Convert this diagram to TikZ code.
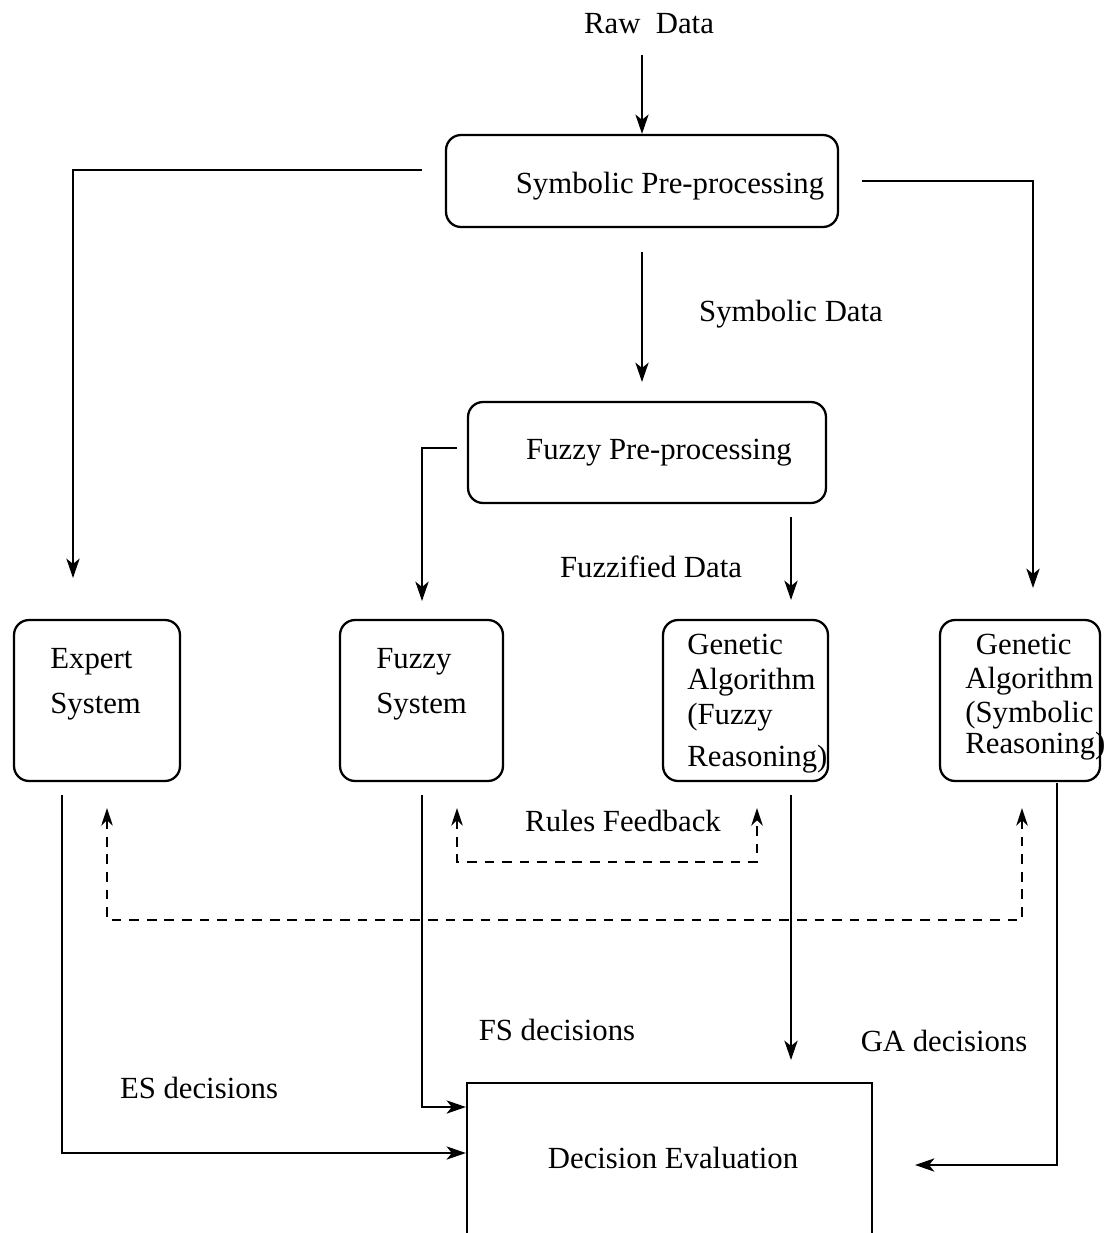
\documentclass[tikz,border=0pt]{standalone}
\usepackage{fontspec}
\setmainfont{Liberation Serif}
\usetikzlibrary{arrows.meta}
\begin{document}
\begin{tikzpicture}[x=0.02cm,y=-0.02cm,
  txt/.style={inner sep=0pt,font=\fontsize{17.5}{21}\selectfont},
  rbox/.style={draw,line width=1.3pt,rounded corners=0.3cm,inner sep=0pt},
  sbox/.style={draw,line width=1.3pt,inner sep=0pt},
  conn/.style={line width=1.3pt,-{Stealth[length=11pt,width=7.5pt,inset=3pt]}},
  fb/.style={line width=1.3pt,dash pattern=on 5.5pt off 4.5pt,{Stealth[length=10pt,width=6.5pt,inset=3pt]}-{Stealth[length=10pt,width=6.5pt,inset=3pt]}}]
\clip (0,0) rectangle (1103,1233);
\fill[white] (0,0) rectangle (1103,1233);

% boxes
\node[rbox,minimum width=7.84cm,minimum height=1.84cm] (sym) at (642,181) {};
\node[rbox,minimum width=7.16cm,minimum height=2.02cm] (fpre) at (647,452.5) {};
\node[rbox,minimum width=3.32cm,minimum height=3.22cm] (es) at (97,700.5) {};
\node[rbox,minimum width=3.26cm,minimum height=3.22cm] (fs) at (421.5,700.5) {};
\node[rbox,minimum width=3.3cm,minimum height=3.22cm] (gaf) at (745.5,700.5) {};
\node[rbox,minimum width=3.2cm,minimum height=3.22cm] (gas) at (1020,700.5) {};
\node[sbox,minimum width=8.1cm,minimum height=3.24cm] (dec) at (669.5,1164) {};

% texts
\node[txt] (raw) at (649,24) {Raw\ \ Data};
\node[txt] (symt) at (670,186) {Symbolic Pre-processing};
\node[txt] (fpret) at (659,453) {Fuzzy Pre-processing};
\node[txt] (symd) at (791,314) {Symbolic Data};
\node[txt] (fzd) at (651,567) {Fuzzified Data};
\node[txt,align=left,anchor=west,font=\fontsize{17.5}{25.6}\selectfont] (est) at (50,684) {Expert\\System};
\node[txt,align=left,anchor=west,font=\fontsize{17.5}{25.6}\selectfont] (fst) at (376,684) {Fuzzy\\System};
\node[txt,align=left,anchor=west,font=\fontsize{17.5}{20}\selectfont] (gaft) at (687,703.5) {Genetic\\Algorithm\\(Fuzzy\\[3.5pt]Reasoning)};
\node[txt,align=left,anchor=west,font=\fontsize{17.5}{19.5}\selectfont] (gast) at (965,697) {\hspace{6pt}Genetic\\Algorithm\\(Symbolic\\[-2pt]Reasoning)};
\node[txt] (rfb) at (623,821) {Rules Feedback};
\node[txt] (fsd) at (557,1030) {FS decisions};
\node[txt] (esd) at (199,1088) {ES decisions};
\node[txt] (gad) at (944,1041) {GA decisions};
\node[txt] (dect) at (673,1158) {Decision Evaluation};

% coordinates
\coordinate (r0) at (642,55);
\coordinate (a1) at (422,170);
\coordinate (a2) at (73,170);
\coordinate (a3) at (73,578);
\coordinate (b1) at (862,181);
\coordinate (b2) at (1033,181);
\coordinate (b3) at (1033,588);
\coordinate (c1) at (642,252);
\coordinate (c2) at (642,382);
\coordinate (e1) at (457,448);
\coordinate (e2) at (422,448);
\coordinate (e3) at (422,601);
\coordinate (f1) at (791,517);
\coordinate (f2) at (791,600);
\coordinate (g1) at (62,795);
\coordinate (g2) at (62,1153);
\coordinate (h1) at (422,795);
\coordinate (h2) at (422,1107);
\coordinate (i1) at (791,795);
\coordinate (i2) at (791,1060);
\coordinate (j1) at (1057,783);
\coordinate (j2) at (1057,1165);
\coordinate (j3) at (915,1165);
\coordinate (k1) at (457,808);
\coordinate (k2) at (457,862);
\coordinate (k3) at (757,862);
\coordinate (k4) at (757,808);
\coordinate (m1) at (107,808);
\coordinate (m2) at (107,920);
\coordinate (m3) at (1022,920);
\coordinate (m4) at (1022,808);

% connectors
\draw[conn] (r0) -- (sym.north);
\draw[conn] (a1) -- (a2) -- (a3);
\draw[conn] (b1) -- (b2) -- (b3);
\draw[conn] (c1) -- (c2);
\draw[conn] (e1) -- (e2) -- (e3);
\draw[conn] (f1) -- (f2);
\draw[conn] (g1) -- (g2) -- (g2 -| dec.west);
\draw[conn] (h1) -- (h2) -- (h2 -| dec.west);
\draw[conn] (i1) -- (i2);
\draw[conn] (j1) -- (j2) -- (j3);
\draw[fb] (k1) -- (k2) -- (k3) -- (k4);
\draw[fb] (m1) -- (m2) -- (m3) -- (m4);
\end{tikzpicture}
\end{document}
